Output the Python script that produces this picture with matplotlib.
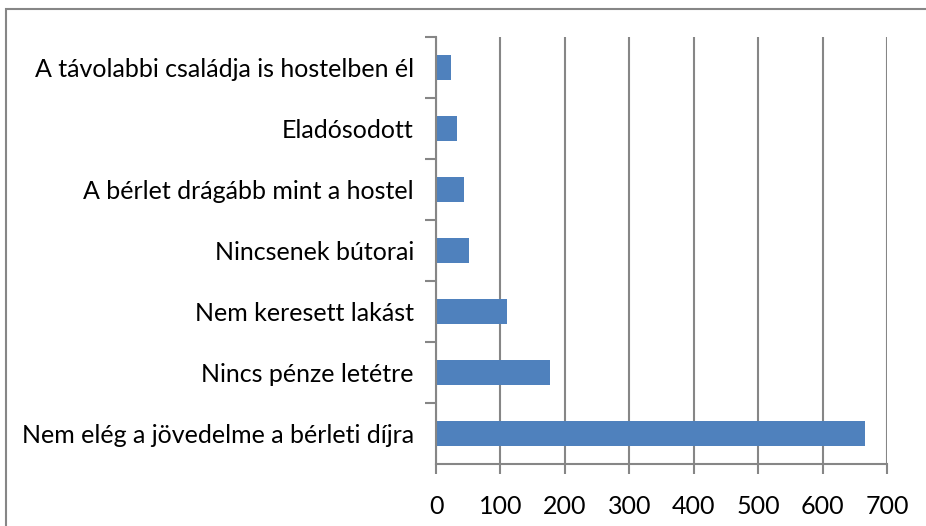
import matplotlib
matplotlib.use('Agg')
import matplotlib.pyplot as plt
from matplotlib.patches import Rectangle

# reasons, bottom to top
categories = ['Nem elég a jövedelme a bérleti díjra',
              'Nincs pénze letétre',
              'Nem keresett lakást',
              'Nincsenek bútorai',
              'A bérlet drágább mint a hostel',
              'Eladósodott',
              'A távolabbi családja is hostelben él']
values = [666, 177, 110, 51, 44, 33, 23]
xticks = [0, 100, 200, 300, 400, 500, 600, 700]

grey = '#868686'
blue = '#4f81bd'

plt.rcParams['font.family'] = ['Lato', 'DejaVu Sans']

fig = plt.figure(figsize=(9.26, 5.26), dpi=100)
ax = fig.add_axes([436/926, 1-464/526, 451/926, 427/526])

# outer chart border
fig.patches.append(Rectangle((6/926, -0.05), 1.0, 1-9/526+0.05,
                             transform=fig.transFigure, fill=False,
                             edgecolor=grey, linewidth=1.5))

pos = list(range(len(categories)))
ax.barh(pos, values, height=0.4, color=blue, zorder=3)

ax.set_xlim(0, 700)
ax.set_ylim(-0.5, len(categories) - 0.5)
ax.set_xticks(xticks)
ax.set_xticklabels([str(t) for t in xticks], fontsize=18)
ax.set_yticks(pos)
ax.set_yticklabels(categories, fontsize=18)
ax.set_yticks([p + 0.5 for p in pos], minor=True)

ax.grid(axis='x', color=grey, linewidth=1.5, zorder=0)
for s in ['top', 'right']:
    ax.spines[s].set_visible(False)
for s in ['left', 'bottom']:
    ax.spines[s].set_color(grey)
    ax.spines[s].set_linewidth(1.5)
ax.spines['left'].set_zorder(4)

ax.tick_params(axis='y', which='major', length=0, pad=16)
ax.tick_params(axis='y', which='minor', length=8, width=1.5, color=grey)
ax.tick_params(axis='x', length=7, width=1.5, color=grey, pad=15)

fig.savefig('out.png', dpi=100)
